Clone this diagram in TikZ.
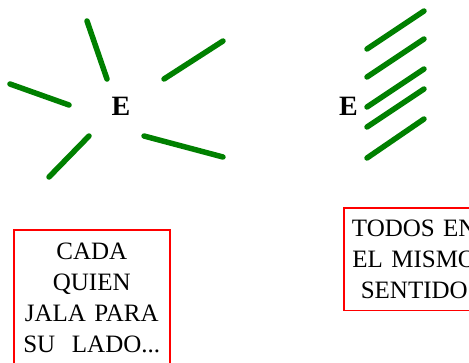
\documentclass[tikz,border=0pt]{standalone}
\usepackage{fontspec}
\setmainfont{Liberation Serif}
\usetikzlibrary{positioning}

\begin{document}
\begin{tikzpicture}[x=1pt, y=-1pt]
	% Define styles
	\tikzset{
		stroke/.style={draw=green!50!black, line width=5.5pt, line cap=round},
		letter/.style={font=\fontsize{28}{30}\selectfont\bfseries, inner sep=0pt, anchor=base},
		note/.style={draw=red, line width=1.5pt, inner xsep=0pt, align=center, anchor=north west,
			font=\fontsize{25}{31}\selectfont}
	}
	\useasboundingbox (0,0) rectangle (469,362);
	\clip (0,0) rectangle (469,362);
	
	% Left group
	\node[letter] (eleft) at (121,115) {E};
	\draw[stroke] (87,21) -- (107,79);
	\draw[stroke] (164,79) -- (223,41);
	\draw[stroke] (10,84) -- (69,105);
	\draw[stroke] (49,177) -- (89,136);
	\draw[stroke] (144,136) -- (223,157);
	
	% Right group
	\node[letter] (eright) at (348.5,115) {E};
	\draw[stroke] (367,49) -- (424,11);
	\draw[stroke] (367,77) -- (424,39);
	\draw[stroke] (367,107) -- (424,69);
	\draw[stroke] (367,127) -- (424,89);
	\draw[stroke] (367,158) -- (424,119);
	
	% Boxes
	\node[note, text width=156pt, inner ysep=13.5pt] (cada) at (13,229)
		{CADA\\QUIEN\\JALA PARA\\SU\ \ LADO...};
	\node[note, text width=141pt, inner ysep=12pt] (todos) at (343,207)
		{TODOS EN\\EL MISMO\\SENTIDO};
	
\end{tikzpicture}
\end{document}
